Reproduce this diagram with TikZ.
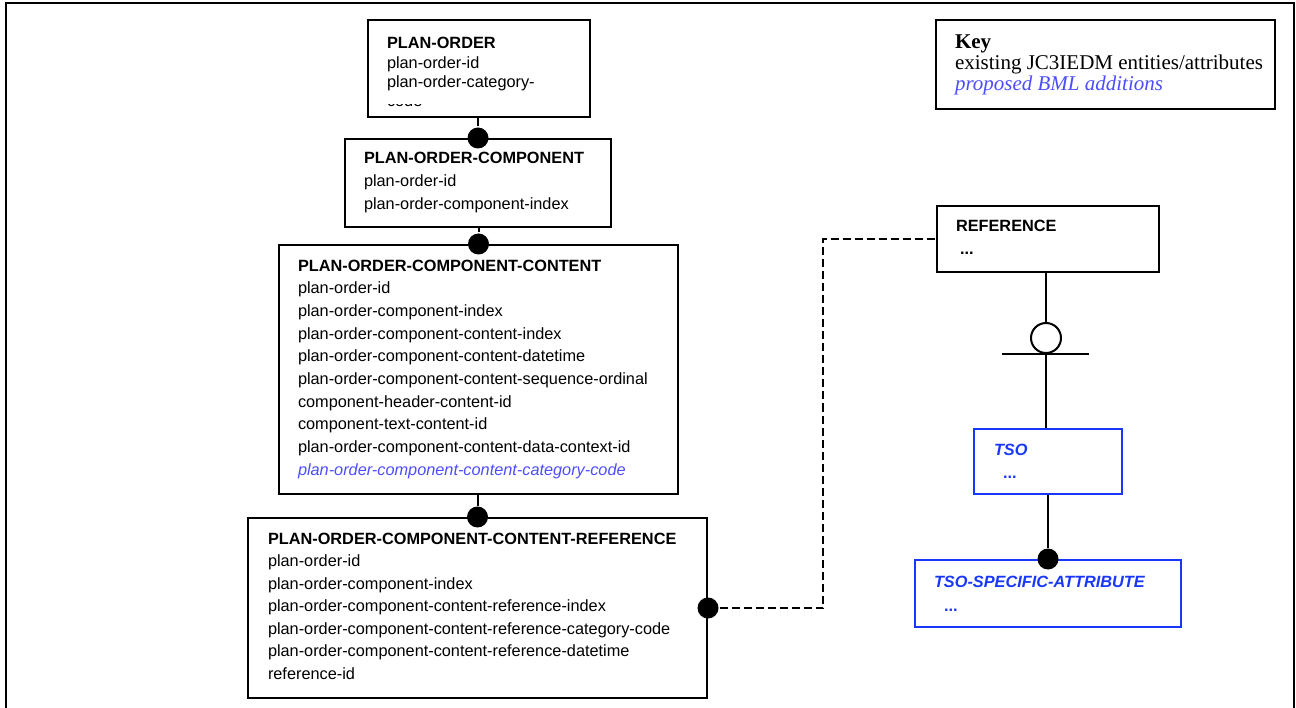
\documentclass[tikz,border=0pt]{standalone}
\usepackage{fontspec}
\setmainfont{Liberation Serif}
\setsansfont{Liberation Sans}
\usepackage{xcolor}
\usetikzlibrary{shapes,arrows,positioning}

\definecolor{bmlblue}{RGB}{77,77,255}
\definecolor{tsoblue}{RGB}{25,55,250}

\begin{document}
\begin{tikzpicture}[x=1pt, y=-1pt, line width=2pt, every node/.style={font=\sffamily\fontsize{16.3}{22.7}\selectfont}]
  \tikzstyle{entity} = [rectangle, draw, anchor=north west, inner sep=0pt]
  \tikzstyle{newentity} = [entity, draw=tsoblue]
  \tikzstyle{attrs} = [anchor=base west, align=left, inner sep=0pt]
  \tikzstyle{dot} = [circle, fill, inner sep=0pt, minimum size=21pt]
  \tikzstyle{dashline} = [draw, dash pattern=on 8pt off 4pt]

  \useasboundingbox (0,0) rectangle (1296,708);
  \draw[line width=2.5pt] (6,720) -- (6,3) -- (1294,3) -- (1294,720);

  % Plan order chain (text nodes sit on the baseline of their last line)
  \node[entity, minimum width=222pt, minimum height=97pt] (po) at (367,19) {};
  \node[attrs, font=\sffamily\fontsize{16.3}{19.2}\selectfont] (po-txt) at (386,87.4) {\textbf{PLAN-ORDER}\\plan-order-id\\plan-order-category-};
  \begin{scope}
    \clip (386,104.8) rectangle (480,108);
    \node[attrs] (po-code) at (386,106.6) {code};
  \end{scope}

  \node[entity, minimum width=266pt, minimum height=88pt] (poc) at (344,138) {};
  \node[attrs] (poc-txt) at (363,209.4) {\textbf{PLAN-ORDER-COMPONENT}\\plan-order-id\\plan-order-component-index};

  \node[entity, minimum width=399pt, minimum height=249pt] (pocc) at (278,244) {};
  \node[attrs] (pocc-txt) at (297,475.3) {\textbf{PLAN-ORDER-COMPONENT-CONTENT}\\plan-order-id\\plan-order-component-index\\plan-order-component-content-index\\plan-order-component-content-datetime\\plan-order-component-content-sequence-ordinal\\component-header-content-id\\component-text-content-id\\plan-order-component-content-data-context-id\\\textcolor{bmlblue}{\textit{plan-order-component-content-category-code}}};

  \node[entity, minimum width=459pt, minimum height=180pt] (poccr) at (247,517) {};
  \node[attrs, font=\sffamily\fontsize{16.3}{22.5}\selectfont] (poccr-txt) at (267,679) {\textbf{PLAN-ORDER-COMPONENT-CONTENT-REFERENCE}\\plan-order-id\\plan-order-component-index\\plan-order-component-content-reference-index\\plan-order-component-content-reference-category-code\\plan-order-component-content-reference-datetime\\reference-id};

  % Reference side
  \node[entity, minimum width=222pt, minimum height=66pt] (ref) at (936,205) {};
  \node[attrs, font=\sffamily\fontsize{16.3}{23}\selectfont] (ref-txt) at (955,255) {\textbf{REFERENCE}\\\hspace{4pt}\textbf{...}};
  \node[circle, draw, fill=white, inner sep=0pt, minimum size=30pt] (opt) at (1046,338) {};

  \node[newentity, minimum width=148pt, minimum height=65pt] (tso) at (973,428) {};
  \node[attrs, text=tsoblue, font=\sffamily\fontsize{16.3}{23}\selectfont] (tso-txt) at (993,478) {\textbf{\textit{TSO}}\\\hspace{9pt}\textbf{...}};

  \node[newentity, minimum width=266pt, minimum height=67pt] (tsoattr) at (914,559) {};
  \node[attrs, text=tsoblue, font=\sffamily\fontsize{16.3}{24}\selectfont] (tsoattr-txt) at (933,611) {\textbf{\textit{TSO-SPECIFIC-ATTRIBUTE}}\\\hspace{10pt}\textbf{...}};

  % Key
  \node[entity, minimum width=339pt, minimum height=89pt] (key) at (935,19) {};
  \node[attrs, font=\rmfamily\fontsize{21}{21}\selectfont] (key-txt) at (954,91) {\textbf{Key}\\existing JC3IEDM entities/attributes\\\textcolor{bmlblue}{\textit{proposed BML additions}}};

  % Dots
  \node[dot] (d1) at (poc.north) {};
  \node[dot] (d2) at (pocc.north) {};
  \node[dot] (d3) at (poccr.north) {};
  \node[dot] (d4) at (tsoattr.north) {};
  \node[dot] (d5) at (poccr.east) {};

  % Connections
  \draw (d1) -- (d1 |- po.south);
  \draw (d2) -- (d2 |- poc.south);
  \draw (d3) -- (d3 |- pocc.south);
  \draw (opt) -- (opt |- ref.south);
  \draw (opt.south) ++(-44,0) -- ++(87,0);
  \draw (opt) -- (opt |- tso.north);
  \draw (d4) -- (d4 |- tso.south);
  \draw[dashline] (d5) -- ++(115,0) |- (ref.west);
\end{tikzpicture}
\end{document}
